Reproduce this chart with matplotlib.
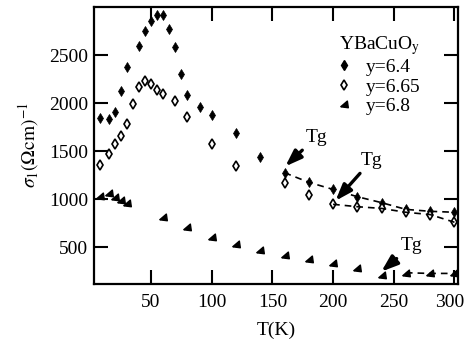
# YBaCuO_y optical conductivity vs temperature
import numpy as np
import matplotlib
matplotlib.use('Agg')
import matplotlib.pyplot as plt
import matplotlib.transforms as mtransforms
from matplotlib.lines import Line2D

plt.rcParams['font.family'] = ['Liberation Serif', 'DejaVu Serif']
plt.rcParams['mathtext.fontset'] = 'stix'

# data
T_64 = [8, 15, 20, 25, 30, 40, 45, 50, 55, 60, 65, 70, 75, 80, 90, 100, 120, 140,
        160, 180, 200, 220, 240, 260, 280, 300]
s_64 = [1845, 1830, 1910, 2128, 2380, 2597, 2751, 2850, 2915, 2920, 2772, 2579, 2305, 2080,
        1962, 1870, 1685, 1435, 1274, 1174, 1100, 1024, 962, 892, 872, 862]

T_665 = [8, 15, 20, 25, 30, 35, 40, 45, 50, 55, 60, 70, 80, 100, 120,
         160, 180, 200, 220, 240, 260, 280, 300]
s_665 = [1355, 1468, 1573, 1660, 1778, 1987, 2170, 2233, 2198, 2136, 2091, 2025, 1858, 1570, 1347,
         1163, 1042, 945, 920, 902, 862, 838, 758]

T_68 = [8, 15, 20, 25, 30, 60, 80, 100, 120, 140, 160, 180, 200, 220, 240, 260, 280, 300]
s_68 = [1034, 1059, 1024, 990, 955, 816, 711, 607, 531, 469, 417, 372, 336, 278, 210, 232, 225, 225]

# glass transition temperatures (start of the dashed curves)
Tg_64 = 160
Tg_665 = 200
Tg_68 = 260

fig = plt.figure(figsize=(4.66, 3.47), dpi=100)
ax = fig.add_axes([0.2017, 0.1816, 0.7813, 0.7982])

tri = [(-1, -0.6), (1, -0.85), (0.75, 0.9), (-1, -0.6)]

ax.plot(T_64, s_64, linestyle='none', marker='d', ms=5.5, color='k', mew=0.5)
ax.plot(T_665, s_665, linestyle='none', marker='d', ms=5.2, mfc='white', mec='k', mew=1.2)
ax.plot(T_68, s_68, linestyle='none', marker=tri, ms=5.5, color='k')

# dashed curves above Tg
T_64 = np.array(T_64); s_64 = np.array(s_64)
T_665 = np.array(T_665); s_665 = np.array(s_665)
T_68 = np.array(T_68); s_68 = np.array(s_68)
ax.plot(T_64[T_64 >= Tg_64], s_64[T_64 >= Tg_64], 'k--', lw=1.2, dashes=(4, 3))
ax.plot(T_665[T_665 >= Tg_665], s_665[T_665 >= Tg_665], 'k--', lw=1.2, dashes=(4, 3))
ax.plot(T_68[T_68 >= Tg_68], s_68[T_68 >= Tg_68], 'k--', lw=1.2, dashes=(4, 3))

# Tg arrows
arr = dict(arrowstyle='-|>,head_length=0.7,head_width=0.25', lw=2.4, color='k')
ax.annotate('Tg', xy=(159, 1320), xytext=(186, 1646), fontsize=14,
            ha='center', va='center', arrowprops=arr)
ax.annotate('Tg', xy=(200.5, 960), xytext=(232, 1406), fontsize=14,
            ha='center', va='center', arrowprops=arr)
ax.annotate('Tg', xy=(238, 225), xytext=(265, 516), fontsize=14,
            ha='center', va='center', arrowprops=arr)

ax.set_xlim(3, 303)
ax.set_ylim(115, 3000)
ax.set_xticks([50, 100, 150, 200, 250, 300])
ax.set_yticks([500, 1000, 1500, 2000, 2500])
ax.tick_params(direction='in', length=10, width=1.5, labelsize=14,
               top=True, right=True)
ax.tick_params(axis='x', pad=7)
ax.tick_params(axis='y', pad=4)
for sp in ax.spines.values():
    sp.set_linewidth(1.6)

# keep the last x label inside the picture
lab = ax.get_xticklabels()[-1]
lab.set_transform(lab.get_transform() + mtransforms.ScaledTranslation(-5 / 100, 0, fig.dpi_scale_trans))

ax.set_xlabel('T(K)', fontsize=14, labelpad=8)
ax.set_ylabel(r'$\sigma_1(\Omega\mathrm{cm})^{-1}$', fontsize=14, labelpad=6)

handles = [
    Line2D([], [], linestyle='none', marker='d', ms=5.5, color='k'),
    Line2D([], [], linestyle='none', marker='d', ms=5.2, mfc='white', mec='k', mew=1.2),
    Line2D([], [], linestyle='none', marker=tri, ms=5.5, color='k'),
]
ax.legend(handles, ['y=6.4', 'y=6.65', 'y=6.8'], title='YBaCuO$_\\mathrm{y}$',
          frameon=False, fontsize=14, title_fontsize=14, alignment='right',
          handlelength=1.0, handletextpad=0.6, labelspacing=0.1,
          borderpad=0, loc='upper right',
          bbox_to_anchor=(430 / 466, 1 - 24 / 347), bbox_transform=fig.transFigure)

fig.savefig('out.png', dpi=100)
